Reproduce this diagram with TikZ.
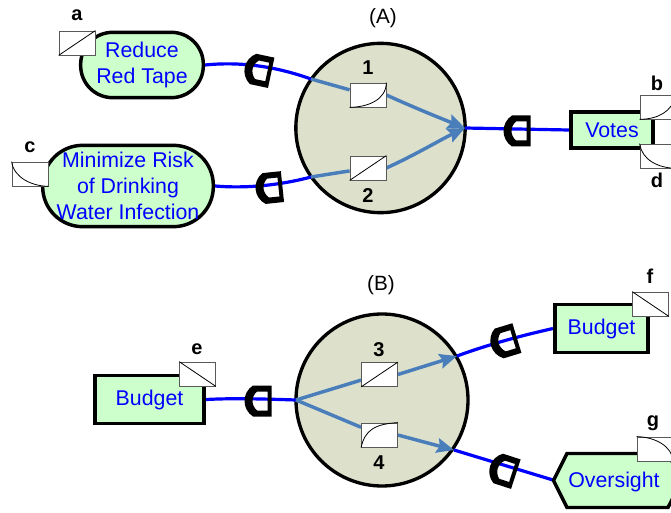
\documentclass[tikz,border=0pt]{standalone}
\usepackage{fontspec}
\setmainfont{Liberation Sans}
\usetikzlibrary{arrows.meta}
\pgfdeclarelayer{hulls}
\pgfdeclarelayer{wires}
\pgfsetlayers{hulls,wires,main}
\tikzset{
  base/.style={x=0.75pt,y=-0.75pt},
  pill/.style={draw=black,fill=termgreen,line width=2.6pt,inner sep=0pt,align=center,text=blue,font=\fontsize{16}{19.5}\selectfont},
  boxnode/.style={draw=black,fill=termgreen,line width=2.8pt,inner sep=0pt,text=blue,font=\fontsize{16}{19.5}\selectfont},
  txtnode/.style={inner sep=0pt,text=blue,font=\fontsize{16}{19.5}\selectfont},
  hull/.style={draw=black,fill=hullfill,line width=2.5pt,circle,inner sep=0pt},
  hexpath/.style={draw=black,fill=termgreen,line width=2.6pt,line join=miter},
  fnbox/.style={draw=black!65,fill=white,line width=0.6pt,minimum width=27pt,minimum height=18pt,inner sep=0pt},
  fncurve/.style={draw=black,line width=0.6pt},
  letter/.style={inner sep=0pt,font=\fontsize{15}{18}\selectfont\bfseries},
  caption/.style={inner sep=0pt,font=\fontsize{15.5}{18}\selectfont},
  wire/.style={draw=blue,line width=2.4pt},
  flow/.style={draw=flowblue,line width=2.6pt},
  flowtip/.style={flow,-{Stealth[length=13pt,width=11pt,inset=2pt]}},
  gateshape/.style={fill=black,even odd rule}
}
\definecolor{termgreen}{HTML}{CCFFCC}
\definecolor{hullfill}{HTML}{DDE1CC}
\definecolor{flowblue}{HTML}{4A7EBB}
\newcommand{\gatemark}[3]{%
  \fill[gateshape,shift={(#1,#2)},rotate=#3]
    (13.5,-15.5) -- (-5,-15.5) .. controls (-10.5,-12) and (-13.5,-6) .. (-13.5,0)
    .. controls (-13.5,6) and (-10.5,12) .. (-5,15.5) -- (13.5,15.5) -- cycle
    (9.5,-9.5) -- (-1,-9.5) .. controls (-4,-7) and (-5.5,-3) .. (-5.5,0)
    .. controls (-5.5,3) and (-4,7) .. (-1,9.5) -- (9.5,9.5) -- cycle;}
\begin{document}
\begin{tikzpicture}[base]
\useasboundingbox (0,0) rectangle (671,513);
% hulls
\begin{pgfonlayer}{hulls}
\node[hull,minimum size=127pt] (hullA) at (380.5,128) {};
\node[hull,minimum size=129pt] (hullB) at (382,400) {};
\end{pgfonlayer}
% terminals
\node[pill,minimum width=92pt,minimum height=49pt,rounded corners=24pt] (tape) at (142,65) {\raisebox{-1.5pt}{Reduce}\\\raisebox{-1.5pt}{Red Tape}};
\node[pill,minimum width=128pt,minimum height=61pt,rounded corners=30pt] (risk) at (128,186) {\raisebox{0.7pt}{Minimize Risk}\\\raisebox{0.7pt}{of Drinking}\\\raisebox{0.7pt}{Water Infection}};
\node[boxnode,minimum width=62pt,minimum height=27.5pt] (votes) at (612,130) {\raisebox{-0.7pt}{Votes}};
\node[boxnode,minimum width=82pt,minimum height=36pt] (budgetE) at (149.5,399.5) {\raisebox{-1.5pt}{Budget}};
\node[boxnode,minimum width=70pt,minimum height=36pt] (budgetF) at (601.5,328.5) {\raisebox{-1.5pt}{Budget}};
\draw[hexpath] (553.5,480.5) -- (567,453.5) -- (668,453.5) -- (682,480.5) -- (668,507.5) -- (567,507.5) -- cycle;
\node[txtnode] (oversight) at (614,481.5) {Oversight};
% anchor points on the hulls
\coordinate (a1) at (311,79);
\coordinate (a2) at (311,177);
\coordinate (atip) at (465,128);
\coordinate (bin) at (296,400);
\coordinate (b3) at (457,356);
\coordinate (b4) at (454,450);
\coordinate (govert) at (553,480);
% function boxes inside hulls
\node[fnbox] (f1) at (368,95) {};
\node[fnbox] (f2) at (368,168) {};
\node[fnbox] (f3) at (379.5,374.5) {};
\node[fnbox] (f4) at (379.5,435) {};
% wires and flows
\begin{pgfonlayer}{wires}
\draw[wire] (tape.east) .. controls (245,61) and (280,68) .. (a1);
\draw[wire] (risk.east) .. controls (250,189) and (285,184) .. (a2);
\draw[wire] (atip) -- (votes.west);
\draw[wire] (budgetE.east) .. controls (235,398) and (265,399) .. (bin);
\draw[wire] (b3) .. controls (490,344) and (520,336) .. (budgetF.west);
\draw[wire] (b4) -- (govert);
\draw[flow] (a1) -- (f1);
\draw[flow] (a2) -- (f2);
\draw[flowtip] (f1.east) .. controls (415,108) and (440,118) .. (atip);
\draw[flowtip] (f2.east) .. controls (415,155) and (440,140) .. (atip);
\draw[flow] (bin) -- (f3);
\draw[flow] (bin) -- (f4);
\draw[flowtip] (f3.east) -- (b3);
\draw[flowtip] (f4.east) -- (b4);
\end{pgfonlayer}
\draw[fncurve] (f1.south west) .. controls (368,107) and (386,100) .. (f1.north east);
\draw[fncurve] (f2.south west) -- (f2.north east);
\draw[fncurve] (f3.south west) -- (f3.north east);
\draw[fncurve] (f4.south west) .. controls (365,430) and (375,424) .. (f4.north east);
% outer function boxes
\node[fnbox] (fa) at (77,43) {};
\draw[fncurve] (fa.south west) -- (fa.north east);
\node[fnbox] (fb) at (658,107) {};
\draw[fncurve] (fb.south west) .. controls (658,119) and (672,112) .. (fb.north east);
\node[fnbox] (fc) at (30,174) {};
\draw[fncurve] (fc.north west) .. controls (14,178) and (32,186) .. (fc.south east);
\node[fnbox] (fd) at (658,156) {};
\draw[fncurve] (fd.north west) .. controls (642,160) and (658,168) .. (fd.south east);
\node[fnbox] (fe) at (197.5,374) {};
\draw[fncurve] (fe.north west) -- (fe.south east);
\node[fnbox] (ff) at (650.5,304) {};
\draw[fncurve] (ff.north west) -- (ff.south east);
\node[fnbox] (fg) at (655,449) {};
\draw[fncurve] (fg.north west) .. controls (655,437) and (672,446) .. (fg.south east);
% gates
\gatemark{258}{70}{-12}
\gatemark{269}{188}{6}
\gatemark{517}{131}{0}
\gatemark{258}{401}{0}
\gatemark{504}{342}{17}
\gatemark{503}{470}{-18}
% letters
\node[letter] (la) at (77,15) {a};
\node[letter] (lb) at (657,83) {b};
\node[letter] (lc) at (30,147) {c};
\node[letter] (ld) at (657,180) {d};
\node[letter] (le) at (197,349) {e};
\node[letter] (lf) at (650,276) {f};
\node[letter] (lg) at (653,423) {g};
\node[letter] (n1) at (368,68) {1};
\node[letter] (n2) at (368,196) {2};
\node[letter] (n3) at (379,350) {3};
\node[letter] (n4) at (379,463) {4};
\node[caption] (capA) at (383,18) {(A)};
\node[caption] (capB) at (381,285) {(B)};
\end{tikzpicture}
\end{document}
